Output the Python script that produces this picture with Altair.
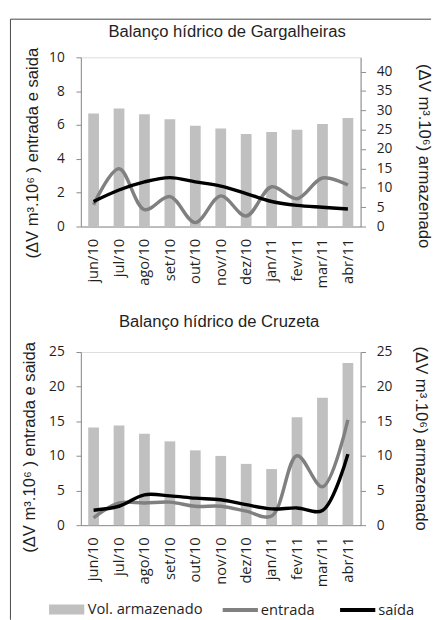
import altair as alt
import pandas as pd

months = ["jun/10", "jul/10", "ago/10", "set/10", "out/10", "nov/10",
          "dez/10", "jan/11", "fev/11", "mar/11", "abr/11"]

bar_name = "Vol. armazenado"
series_names = ["entrada", "saída"]

# Gargalheiras
garg_vol = [29.2, 30.5, 29.0, 27.7, 26.0, 25.3, 23.9, 24.4, 25.0, 26.5, 28.0]
garg_entrada = [1.29, 3.41, 1.0, 1.77, 0.23, 1.81, 0.62, 2.35, 1.64, 2.87, 2.45]
garg_saida = [1.48, 2.16, 2.64, 2.89, 2.64, 2.39, 1.95, 1.48, 1.25, 1.14, 1.04]

# Cruzeta
cruz_vol = [14.1, 14.4, 13.2, 12.1, 10.8, 10.0, 8.85, 8.1, 15.6, 18.4, 23.4]
cruz_entrada = [1.07, 3.2, 3.2, 3.33, 2.73, 2.73, 2.02, 1.31, 10.03, 5.55, 15.2]
cruz_saida = [2.16, 2.73, 4.38, 4.23, 3.9, 3.67, 2.96, 2.35, 2.49, 2.12, 10.26]

left_ticks_g = [0, 2, 4, 6, 8, 10]
right_ticks_g = [0, 5, 10, 15, 20, 25, 30, 35, 40]
left_ticks_c = [0, 5, 10, 15, 20, 25]
right_ticks_c = [0, 5, 10, 15, 20, 25]

AX = "#8a8a8a"
TXT = "#1f1f1f"
BAR = "#c0c0c0"
LINE_COLORS = ["#808080", "#000000"]
W = 286


def bars_df(vol):
    return pd.DataFrame({"month": months, "vol": vol, "serie": [bar_name] * len(months)})


def lines_df(ent, sai):
    rows = []
    for m, e, s in zip(months, ent, sai):
        rows.append({"month": m, "serie": series_names[0], "value": e})
        rows.append({"month": m, "serie": series_names[1], "value": s})
    return pd.DataFrame(rows)


x_enc = alt.X("month:N", sort=months,
              scale=alt.Scale(paddingInner=0, paddingOuter=0),
              axis=alt.Axis(title=None, labelAngle=-90, ticks=False, labelPadding=12,
                            domainColor=AX, labelFont="Open Sans", labelFontSize=15,
                            labelColor=TXT))

fill_enc = alt.Fill("serie:N",
                    scale=alt.Scale(domain=[bar_name], range=[BAR]),
                    legend=alt.Legend(title=None, orient="none", direction="horizontal",
                                      legendX=-22, legendY=557,
                                      symbolType="M-3,-0.85H3V0.85H-3Z", symbolSize=144,
                                      symbolStrokeWidth=0,
                                      labelOffset=14, labelFont="Open Sans",
                                      labelFontSize=15, labelColor=TXT))

stroke_enc = alt.Stroke("serie:N",
                        scale=alt.Scale(domain=series_names, range=LINE_COLORS),
                        legend=alt.Legend(title=None, orient="none", direction="horizontal",
                                          legendX=155, legendY=557,
                                          symbolType="M-3,0H3", symbolSize=144,
                                          symbolStrokeWidth=4, columnPadding=18,
                                          labelOffset=13, labelFont="Open Sans",
                                          labelFontSize=15, labelColor=TXT))


def panel(vol, ent, sai, title, h, left_dom, left_ticks, right_dom, right_ticks,
          title_offset, title_dx, lt_x, lt_y, rt_x, rt_y, frame=False):
    bars = alt.Chart(bars_df(vol)).mark_bar(size=11).encode(
        x=x_enc,
        y=alt.Y("vol:Q", scale=alt.Scale(domain=right_dom, nice=False),
                axis=alt.Axis(orient="right", values=right_ticks, grid=False, tickSize=5,
                              labelPadding=11, domainColor=AX, tickColor=AX,
                              labelFont="Open Sans", labelFontSize=14, labelColor=TXT,
                              title="(ΔV m³.10⁶) armazenado", titleFont="Liberation Sans",
                              titleFontSize=17, titleFontWeight="normal", titleColor=TXT,
                              titleAngle=90, titleX=rt_x, titleY=rt_y,
                              titleBaseline="middle", titleAlign="center")),
        fill=fill_enc,
    )
    lines = alt.Chart(lines_df(ent, sai)).mark_line(
        interpolate="catmull-rom", strokeWidth=3.5).encode(
        x=x_enc,
        y=alt.Y("value:Q", scale=alt.Scale(domain=left_dom, nice=False),
                axis=alt.Axis(orient="left", values=left_ticks, grid=False, tickSize=5,
                              labelPadding=12, domainColor=AX, tickColor=AX,
                              labelFont="Open Sans", labelFontSize=14, labelColor=TXT,
                              title="(ΔV m³.10⁶ ) entrada e saida",
                              titleFont="Liberation Sans", titleFontSize=17,
                              titleFontWeight="normal", titleColor=TXT,
                              titleAngle=-90, titleX=lt_x, titleY=lt_y,
                              titleBaseline="middle", titleAlign="center")),
        stroke=stroke_enc,
        order=alt.Order("serie:N"),
    )
    layers = [bars, lines]
    if frame:
        fdf = pd.DataFrame({"f": [0]})
        top_rule = alt.Chart(fdf).mark_rule(color="#444444", strokeWidth=1).encode(
            x=alt.value(-72), x2=alt.value(358), y=alt.value(-39))
        left_rule = alt.Chart(fdf).mark_rule(color="#444444", strokeWidth=1).encode(
            x=alt.value(-72), y=alt.value(-39), y2=alt.value(575))
        layers += [top_rule, left_rule]
    return alt.layer(*layers).resolve_scale(y="independent").properties(
        width=W, height=h,
        title=alt.TitleParams(title, font="Liberation Sans", fontSize=17,
                              fontWeight="normal", color=TXT, anchor="middle",
                              frame="group",
                              baseline="alphabetic", offset=title_offset, dx=title_dx),
    )


top = panel(garg_vol, garg_entrada, garg_saida, "Balanço hídrico  de Gargalheiras",
            173, [0, 10], left_ticks_g, [0, 43.7], right_ticks_g,
            -36, 6.5, -49.5, 97.5, 64, 100.5, frame=True)
bottom = panel(cruz_vol, cruz_entrada, cruz_saida, "Balanço hídrico  de Cruzeta",
               177, [0, 25], left_ticks_c, [0, 25], right_ticks_c,
               -2.8, -1.7, -52.5, 97, 61, 88)

chart = alt.vconcat(top, bottom, spacing=128.3, bounds="flush",
                    padding={"left": 1.5, "top": 3.5, "right": 0, "bottom": 0}).configure_view(
    stroke=None).configure(background="white")

chart.save("out.html", embed_options={"renderer": "svg", "actions": False})
